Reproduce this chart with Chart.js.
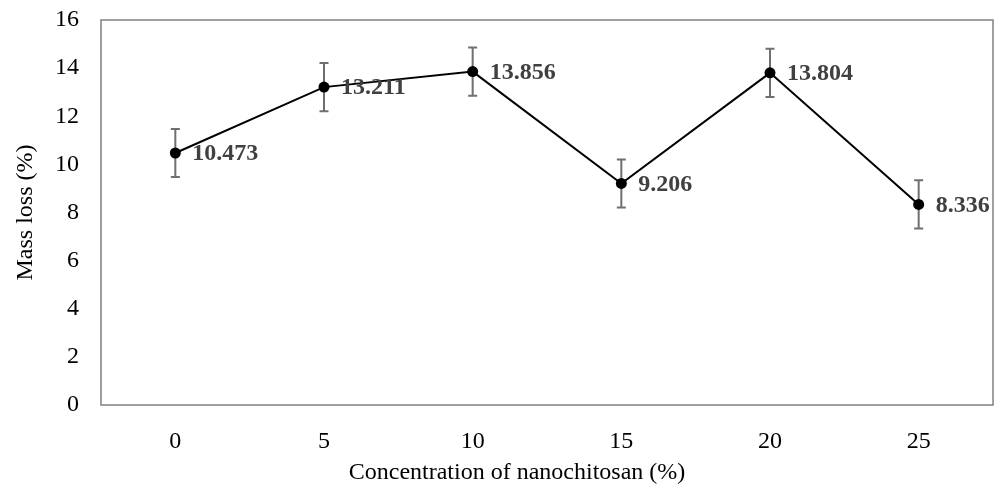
<!DOCTYPE html>
<html>
<head>
<meta charset="utf-8">
<script src="https://cdn.jsdelivr.net/npm/chart.js@4.4.1/dist/chart.umd.min.js"></script>
<style>
  html, body { margin: 0; padding: 0; background: #fff; }
  #wrap { width: 994px; height: 489px; position: relative; }
</style>
</head>
<body>
<div id="wrap"><canvas id="c" width="994" height="489"></canvas></div>
<script>
const categories = ['0', '5', '10', '15', '20', '25'];
const massLoss = [10.473, 13.211, 13.856, 9.206, 13.804, 8.336];
const errorValues = [1.0, 1.0, 1.0, 1.0, 1.0, 1.0];
const dataLabels = ['10.473', '13.211', '13.856', '9.206', '13.804', '8.336'];
const yTicks = [0, 2, 4, 6, 8, 10, 12, 14, 16];
const xTitle = 'Concentration of nanochitosan (%)';
const yTitle = 'Mass loss (%)';

const FONT = '"Liberation Serif", "Times New Roman", serif';

const errorBarPlugin = {
  id: 'errorBars',
  beforeDatasetsDraw(chart) {
    const ctx = chart.ctx;
    const xs = chart.scales.x, ys = chart.scales.y;
    ctx.save();
    ctx.strokeStyle = '#6f6f6f';
    ctx.lineWidth = 2;
    massLoss.forEach((v, i) => {
      const x = xs.getPixelForValue(i);
      const yT = ys.getPixelForValue(v + errorValues[i]);
      const yB = ys.getPixelForValue(v - errorValues[i]);
      ctx.beginPath();
      ctx.moveTo(x, yT); ctx.lineTo(x, yB);
      ctx.moveTo(x - 4.5, yT); ctx.lineTo(x + 4.5, yT);
      ctx.moveTo(x - 4.5, yB); ctx.lineTo(x + 4.5, yB);
      ctx.stroke();
    });
    ctx.restore();
  },
  afterDatasetsDraw(chart) {
    const ctx = chart.ctx;
    const xs = chart.scales.x, ys = chart.scales.y;
    ctx.save();
    ctx.fillStyle = '#404040';
    ctx.font = 'bold 24px ' + FONT;
    ctx.textAlign = 'left';
    ctx.textBaseline = 'middle';
    massLoss.forEach((v, i) => {
      const x = xs.getPixelForValue(i);
      const y = ys.getPixelForValue(v);
      ctx.fillText(dataLabels[i], x + 17, y + 1);
    });
    ctx.restore();
  },
  afterDraw(chart) {
    const ctx = chart.ctx;
    const a = chart.chartArea;
    ctx.save();
    ctx.strokeStyle = '#808080';
    ctx.lineWidth = 1.5;
    ctx.strokeRect(a.left, a.top, a.right - a.left, a.bottom - a.top);
    ctx.fillStyle = '#000';
    ctx.font = '24px ' + FONT;
    ctx.textAlign = 'center';
    ctx.textBaseline = 'alphabetic';
    ctx.fillText(xTitle, 517, 479);
    ctx.restore();
  }
};

new Chart(document.getElementById('c'), {
  type: 'line',
  data: {
    labels: categories,
    datasets: [{
      data: massLoss,
      borderColor: '#000',
      borderWidth: 2,
      backgroundColor: '#000',
      pointBackgroundColor: '#000',
      pointBorderColor: '#000',
      pointRadius: 5.5,
      pointBorderWidth: 0,
      tension: 0,
      clip: false
    }]
  },
  options: {
    responsive: false,
    animation: false,
    devicePixelRatio: 1,
    layout: { autoPadding: false, padding: { top: 20, right: 1, left: 0, bottom: 0 } },
    plugins: { legend: { display: false }, tooltip: { enabled: false } },
    scales: {
      x: {
        type: 'category',
        offset: true,
        grid: { display: false, drawTicks: false },
        border: { display: false },
        ticks: { color: '#000', font: { family: FONT, size: 24 }, padding: 22, maxRotation: 0 },
        afterFit(s) { s.height = 84; s.paddingLeft = 0; s.paddingRight = 0; }
      },
      y: {
        min: 0, max: 16,
        afterBuildTicks(s) { s.ticks = yTicks.map(v => ({ value: v })); },
        grid: { display: false, drawTicks: false },
        border: { display: false },
        ticks: { color: '#000', font: { family: FONT, size: 24 }, padding: 22 },
        title: { display: true, text: yTitle, color: '#000', font: { family: FONT, size: 24 }, padding: { top: 11, bottom: 0 } },
        afterFit(s) { s.width = 101; s.paddingTop = 0; s.paddingBottom = 0; }
      }
    }
  },
  plugins: [errorBarPlugin]
});
</script>
</body>
</html>
